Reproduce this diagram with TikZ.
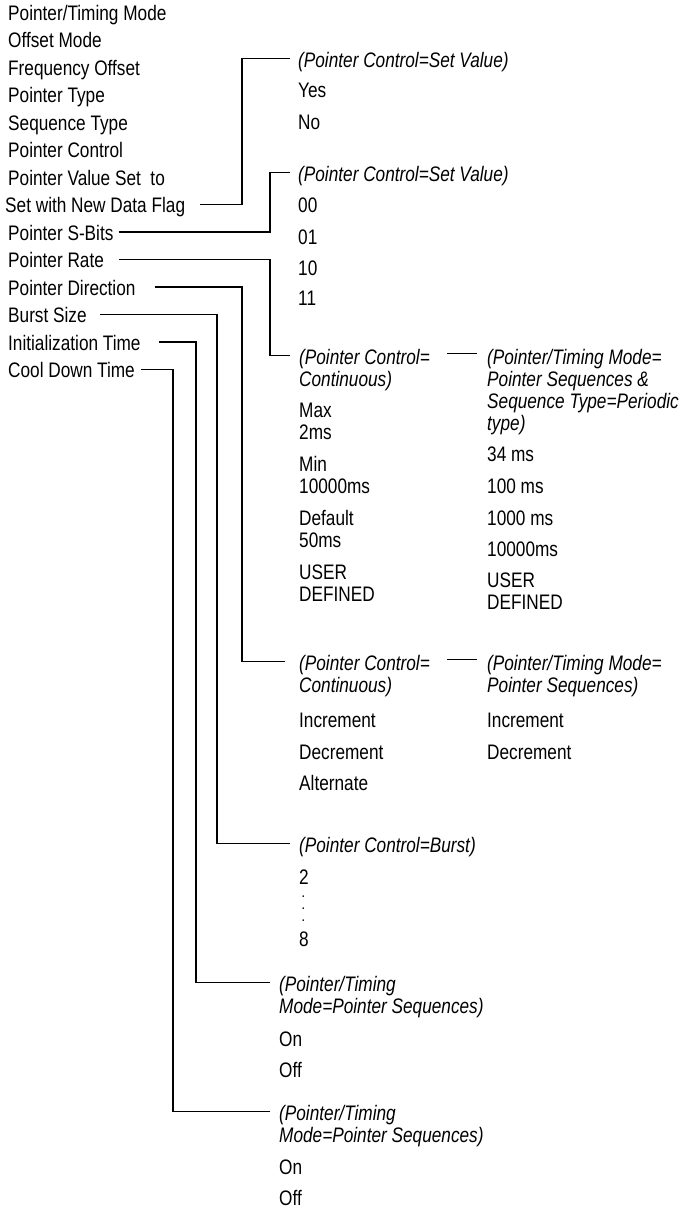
\documentclass[tikz,border=0pt]{standalone}
\usepackage{fontspec}
\setmainfont[FakeStretch=0.82]{Liberation Sans}
\begin{document}
\begin{tikzpicture}[x=1pt,y=-1pt,
  lbl/.style={anchor=base west, inner sep=0pt, font=\fontsize{21}{22}\selectfont},
  hdr/.style={lbl, font=\fontsize{21}{22}\selectfont\itshape, align=left},
  val/.style={lbl, align=left},
  dots/.style={lbl, align=left, font=\fontsize{11}{12}\selectfont\bfseries},
  conn/.style={draw, line width=1.1pt}]
\useasboundingbox (0,0) rectangle (686,1208);
% left labels
\node[lbl] (l1) at (8,20) {Pointer/Timing Mode};
\node[lbl] (l2) at (8,47.5) {Offset Mode};
\node[lbl] (l3) at (8,75) {Frequency Offset};
\node[lbl] (l4) at (8,102.5) {Pointer Type};
\node[lbl] (l5) at (8,130) {Sequence Type};
\node[lbl] (l6) at (8,157.5) {Pointer Control};
\node[lbl] (l7) at (8,185) {Pointer Value Set\ \ to};
\node[lbl] (l8) at (5,212.5) {Set with New Data Flag};
\node[lbl] (l9) at (8,240) {Pointer S-Bits};
\node[lbl] (l10) at (8,267.5) {Pointer Rate};
\node[lbl] (l11) at (8,295) {Pointer Direction};
\node[lbl] (l12) at (8,322.5) {Burst Size};
\node[lbl] (l13) at (8,350) {Initialization Time};
\node[lbl] (l14) at (8,377.5) {Cool Down Time};
% section 1
\node[hdr] (h1) at (298,67.5) {(Pointer Control=Set Value)};
\node[val] (v1a) at (298,97.5) {Yes};
\node[val] (v1b) at (298,129.5) {No};
% section 2
\node[hdr] (h2) at (298,181.5) {(Pointer Control=Set Value)};
\node[val] (v2a) at (298,212.5) {00};
\node[val] (v2b) at (298,244.5) {01};
\node[val] (v2c) at (298,275.5) {10};
\node[val] (v2d) at (298,305.5) {11};
% section 3 (multi-line nodes: base = last line)
\node[hdr] (h3) at (299,386.5) {(Pointer Control=\\Continuous)};
\node[val] (v3a) at (299,439.5) {Max\\2ms};
\node[val] (v3b) at (299,493.5) {Min\\10000ms};
\node[val] (v3c) at (299,547.5) {Default\\50ms};
\node[val] (v3d) at (299,601.5) {USER\\DEFINED};
\node[hdr] (h3b) at (487,430.5) {(Pointer/Timing Mode=\\Pointer Sequences \&\\Sequence Type=Periodic\\type)};
\node[val] (w3a) at (487,461.5) {34 ms};
\node[val] (w3b) at (487,493.5) {100 ms};
\node[val] (w3c) at (487,525.5) {1000 ms};
\node[val] (w3d) at (487,556.5) {10000ms};
\node[val] (w3e) at (487,609.5) {USER\\DEFINED};
% section 4
\node[hdr] (h4) at (299,692.5) {(Pointer Control=\\Continuous)};
\node[val] (v4a) at (299,727.5) {Increment};
\node[val] (v4b) at (299,759.5) {Decrement};
\node[val] (v4c) at (299,790.5) {Alternate};
\node[hdr] (h4b) at (487,692.5) {(Pointer/Timing Mode=\\Pointer Sequences)};
\node[val] (w4a) at (487,727.5) {Increment};
\node[val] (w4b) at (487,759.5) {Decrement};
% section 5
\node[hdr] (h5) at (299,852.5) {(Pointer Control=Burst)};
\node[val] (v5a) at (299,884.5) {2};
\node[dots] (v5b) at (302,921) {.\\.\\.};
\node[val] (v5c) at (299,946.5) {8};
% section 6
\node[hdr] (h6) at (279,1013.5) {(Pointer/Timing\\Mode=Pointer Sequences)};
\node[val] (v6a) at (279,1046.5) {On};
\node[val] (v6b) at (279,1077.5) {Off};
% section 7
\node[hdr] (h7) at (279,1142.5) {(Pointer/Timing\\Mode=Pointer Sequences)};
\node[val] (v7a) at (279,1174.5) {On};
\node[val] (v7b) at (279,1205.5) {Off};
% connectors
\draw[conn] ([xshift=15pt,yshift=8pt]l8.base east) -| ([xshift=-56pt,yshift=9pt]h1.base west) -- ([xshift=-8pt,yshift=9pt]h1.base west);
\draw[conn] ([xshift=5pt,yshift=8pt]l9.base east) -| ([xshift=-28pt,yshift=9pt]h2.base west) -- ([xshift=-8pt,yshift=9pt]h2.base west);
\draw[conn] ([xshift=15pt,yshift=8pt]l10.base east) -| ([xshift=-29pt,yshift=31pt]h3.base west) -- ([xshift=-9pt,yshift=31pt]h3.base west);
\draw[conn] ([xshift=19pt,yshift=8pt]l11.base east) -| ([xshift=-57pt,yshift=31pt]h4.base west) -- ([xshift=-14pt,yshift=31pt]h4.base west);
\draw[conn] ([xshift=13pt,yshift=8pt]l12.base east) -| ([xshift=-82pt,yshift=9pt]h5.base west) -- ([xshift=-9pt,yshift=9pt]h5.base west);
\draw[conn] ([xshift=18pt,yshift=8pt]l13.base east) -| ([xshift=-83pt,yshift=31pt]h6.base west) -- ([xshift=-9pt,yshift=31pt]h6.base west);
\draw[conn] ([xshift=6pt,yshift=8pt]l14.base east) -| ([xshift=-106pt,yshift=31pt]h7.base west) -- ([xshift=-9pt,yshift=31pt]h7.base west);
\draw[conn] ([xshift=-40pt,yshift=77pt]h3b.base west) -- ([xshift=-10pt,yshift=77pt]h3b.base west);
\draw[conn] ([xshift=-40pt,yshift=33pt]h4b.base west) -- ([xshift=-10pt,yshift=33pt]h4b.base west);
\end{tikzpicture}
\end{document}
